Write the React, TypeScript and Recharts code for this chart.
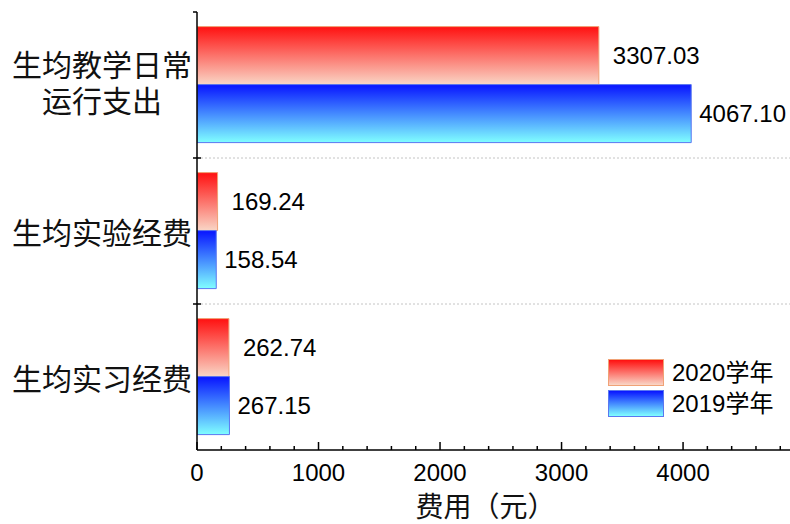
import React from 'react';
import { BarChart, Bar, XAxis, YAxis, ReferenceLine, LabelList, Legend } from 'recharts';

// Per-student expenditure categories (line break marks a wrapped label)
const categories = ['生均教学日常\n运行支出', '生均实验经费', '生均实习经费'];
const values2020 = [3307.03, 169.24, 262.74];
const values2019 = [4067.1, 158.54, 267.15];
const seriesNames = ['2020学年', '2019学年'];
const xTicks = [
  0, 200, 400, 600, 800, 1000, 1200, 1400, 1600, 1800, 2000, 2200, 2400, 2600, 2800,
  3000, 3200, 3400, 3600, 3800, 4000, 4200, 4400, 4600, 4800,
];
const majorStep = 1000;
const xDomain = [0, 4880];

const data = categories.map((name, i) => ({
  name,
  y2020: values2020[i],
  y2019: values2019[i],
}));

const RED_TOP = '#ff1010';
const RED_BOTTOM = '#f9d6c6';
const RED_EDGE = '#f0a276';
const BLUE_TOP = '#0814ff';
const BLUE_BOTTOM = '#80ffff';
const BLUE_EDGE = '#5a78f0';

const CategoryTick = (props: any) => {
  const { x, y, payload, index } = props;
  const half = payload && typeof payload.offset === 'number' ? payload.offset : 73;
  const lines = String(payload.value).split('\n');
  const fs = 30;
  const lh = 36;
  const widest = Math.max(...lines.map((l) => l.length)) * fs;
  const cx = x - 5 - widest / 2;
  const shift = lines.length > 1 ? -4 : 0;
  const firstY = y - ((lines.length - 1) / 2) * lh + shift;
  return (
    <g>
      <line
        x1={x - 4}
        x2={index === 0 ? x : x + 4}
        y1={y - half}
        y2={y - half}
        stroke="#000"
        strokeWidth={1.5}
      />
      <text
        x={cx}
        y={firstY}
        textAnchor="middle"
        dominantBaseline="central"
        fontSize={fs}
        fill="#111"
        fontFamily='"Noto Sans CJK SC", sans-serif'
      >
        {lines.map((l, i) => (
          <tspan key={i} x={cx} dy={i === 0 ? 0 : lh}>
            {l}
          </tspan>
        ))}
      </text>
    </g>
  );
};

const ValueTick = (props: any) => {
  const { x, y, payload } = props;
  const major = payload.value % majorStep === 0;
  return (
    <g>
      <line x1={x} x2={x} y1={y} y2={y - (major ? 8 : 4)} stroke="#000" strokeWidth={1.5} />
      {major && (
        <text x={x} y={y + 22} textAnchor="middle" dominantBaseline="central" fontSize={24} fill="#000">
          {payload.value}
        </text>
      )}
    </g>
  );
};

const LegendBox = () => {
  const items = [
    { name: seriesNames[0], top: RED_TOP, bottom: RED_BOTTOM, edge: RED_EDGE },
    { name: seriesNames[1], top: BLUE_TOP, bottom: BLUE_BOTTOM, edge: BLUE_EDGE },
  ];
  return (
    <div style={{ display: 'flex', flexDirection: 'column', gap: 4 }}>
      {items.map((it) => (
        <div key={it.name} style={{ display: 'flex', alignItems: 'center', height: 27 }}>
          <div
            style={{
              width: 54,
              height: 25,
              border: `1px solid ${it.edge}`,
              background: `linear-gradient(to bottom, ${it.top}, ${it.bottom})`,
            }}
          />
          <span style={{ marginLeft: 8, fontSize: 24, color: '#000', lineHeight: '27px', whiteSpace: 'nowrap' }}>
            {it.name}
          </span>
        </div>
      ))}
    </div>
  );
};

const fmt = (v: any) => Number(v).toFixed(2);

export default function App() {
  return (
    <div
      style={{
        position: 'absolute',
        left: 0,
        top: 0,
        width: 790,
        height: 524,
        background: '#fff',
        fontFamily: '"Liberation Sans", Arial, "Noto Sans CJK SC", sans-serif',
      }}
    >
      <BarChart
        width={790}
        height={524}
        data={data}
        layout="vertical"
        margin={{ top: 12, right: 0, left: 0, bottom: 0 }}
        barCategoryGap="10%"
        barGap={0}
      >
        <defs>
          <linearGradient id="gradRed" x1="0" y1="0" x2="0" y2="1">
            <stop offset="0%" stopColor={RED_TOP} />
            <stop offset="100%" stopColor={RED_BOTTOM} />
          </linearGradient>
          <linearGradient id="gradBlue" x1="0" y1="0" x2="0" y2="1">
            <stop offset="0%" stopColor={BLUE_TOP} />
            <stop offset="100%" stopColor={BLUE_BOTTOM} />
          </linearGradient>
        </defs>
        <XAxis
          type="number"
          domain={xDomain}
          ticks={xTicks}
          allowDataOverflow
          height={74}
          tickSize={0}
          tickMargin={0}
          tickLine={false}
          tick={<ValueTick />}
          interval={0}
          axisLine={{ stroke: '#000', strokeWidth: 1.5 }}
          label={{ value: '费用（元）', position: 'insideBottom', offset: 7, fontSize: 28, fill: '#111', dx: -8 }}
        />
        <YAxis
          type="category"
          dataKey="name"
          width={197}
          tickSize={0}
          tickMargin={0}
          tickLine={false}
          tick={<CategoryTick />}
          interval={0}
          axisLine={{ stroke: '#000', strokeWidth: 1.5 }}
        />
        <ReferenceLine
          y={categories[1]}
          position="start"
          stroke="#c4c4c4"
          strokeDasharray="2 2"
          ifOverflow="visible"
        />
        <ReferenceLine
          y={categories[2]}
          position="start"
          stroke="#c4c4c4"
          strokeDasharray="2 2"
          ifOverflow="visible"
        />
        <Bar dataKey="y2020" name={seriesNames[0]} fill="url(#gradRed)" stroke={RED_EDGE} strokeWidth={1} isAnimationActive={false}>
          <LabelList dataKey="y2020" position="right" offset={14} formatter={fmt} fontSize={24} fill="#000" />
        </Bar>
        <Bar dataKey="y2019" name={seriesNames[1]} fill="url(#gradBlue)" stroke={BLUE_EDGE} strokeWidth={1} isAnimationActive={false}>
          <LabelList dataKey="y2019" position="right" offset={8} formatter={fmt} fontSize={24} fill="#000" />
        </Bar>
        <Legend
          layout="horizontal"
          verticalAlign="middle"
          align="center"
          content={<LegendBox />}
          wrapperStyle={{ position: 'absolute', left: 608, top: 359, width: 180, height: 58 }}
        />
      </BarChart>
    </div>
  );
}
